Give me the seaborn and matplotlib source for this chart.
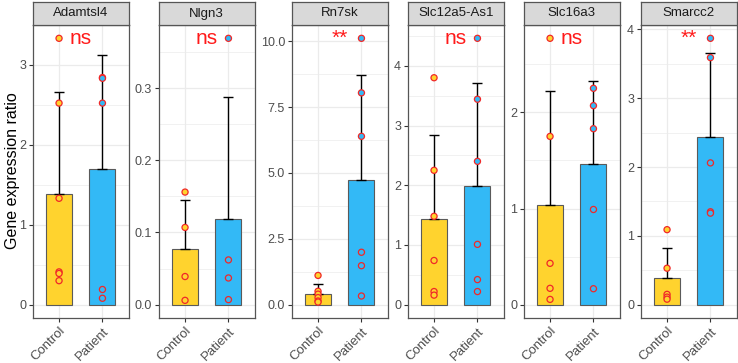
import numpy as np
import pandas as pd
import matplotlib
matplotlib.use("Agg")
import matplotlib.pyplot as plt
from matplotlib.ticker import MultipleLocator, FormatStrFormatter
import seaborn as sns

# ---------------- data ----------------
genes = ["Adamtsl4", "Nlgn3", "Rn7sk", "Slc12a5-As1", "Slc16a3", "Smarcc2"]
groups = ["Control", "Patient"]

adamtsl4_control = [3.33, 2.52, 1.33, 0.41, 0.39, 0.30]
adamtsl4_patient = [2.84, 2.83, 2.52, 0.19, 0.08]
nlgn3_control = [0.156, 0.107, 0.039, 0.006]
nlgn3_patient = [0.369, 0.062, 0.037, 0.007]
rn7sk_control = [1.11, 0.51, 0.40, 0.27, 0.14, 0.10]
rn7sk_patient = [10.11, 8.04, 6.39, 1.99, 1.48, 0.33]
slc12a5_control = [3.80, 2.25, 1.48, 0.74, 0.22, 0.16]
slc12a5_patient = [4.46, 3.44, 2.40, 1.01, 0.42, 0.22]
slc16a3_control = [2.77, 1.75, 0.43, 0.17, 0.055]
slc16a3_patient = [2.25, 2.07, 1.83, 0.99, 0.166]
smarcc2_control = [1.09, 0.53, 0.15, 0.11, 0.08]
smarcc2_patient = [3.87, 3.59, 2.06, 1.35, 1.33]

significance = ["ns", "ns", "**", "ns", "ns", "**"]
y_steps = [1, 0.1, 2.5, 1, 1, 1]
y_formats = ["%d", "%.1f", "%.1f", "%d", "%d", "%d"]

values = {
    "Adamtsl4": (adamtsl4_control, adamtsl4_patient),
    "Nlgn3": (nlgn3_control, nlgn3_patient),
    "Rn7sk": (rn7sk_control, rn7sk_patient),
    "Slc12a5-As1": (slc12a5_control, slc12a5_patient),
    "Slc16a3": (slc16a3_control, slc16a3_patient),
    "Smarcc2": (smarcc2_control, smarcc2_patient),
}

rows = []
for g in genes:
    c, p = values[g]
    rows += [(g, "Control", v) for v in c]
    rows += [(g, "Patient", v) for v in p]
df = pd.DataFrame(rows, columns=["gene", "group", "value"])

# ---------------- style ----------------
sns.set_theme(style="white")
plt.rcParams["font.family"] = ["Liberation Sans", "DejaVu Sans"]

palette = {"Control": "#FFD32E", "Patient": "#33B9F6"}
border = "#555555"
grid_col = "#EBEBEB"

W, H = 738, 363
fig = plt.figure(figsize=(W / 100, H / 100), dpi=100)

lefts = [33, 159, 292, 408, 524, 641]
pw = 95.5
ptop, pbot = 25, 318
stop = 2

for i, g in enumerate(genes):
    ax = fig.add_axes([lefts[i] / W, (H - pbot) / H, pw / W, (pbot - ptop) / H])
    sub = df[df.gene == g]

    ax.set_axisbelow(True)
    sns.barplot(data=sub, x="group", y="value", hue="group", order=groups,
                hue_order=groups, palette=palette, saturation=1,
                errorbar=None, width=0.6, edgecolor="#5A5A5A", linewidth=0.8,
                legend=False, ax=ax, zorder=2)

    stats = sub.groupby("group")["value"].agg(["mean", "std"]).reindex(groups)
    ax.errorbar(x=np.arange(len(groups)), y=stats["mean"].values,
                yerr=[np.zeros(len(groups)), stats["std"].values],
                fmt="none", ecolor="black", elinewidth=1.0, capsize=3.3,
                capthick=1.0, zorder=3)

    sns.stripplot(data=sub, x="group", y="value", hue="group", order=groups,
                  hue_order=groups, palette=palette, jitter=False, size=4.4,
                  edgecolor="#F02828", linewidth=0.9, legend=False, ax=ax,
                  zorder=4)

    ymax = max(sub["value"].max(), (stats["mean"] + stats["std"]).max())
    pad = 0.05 * ymax
    ax.set_ylim(-pad, ymax + pad)
    ax.set_xlim(-0.6, 1.6)

    ax.text(0.5, sub["value"].max(), significance[i], ha="center",
            va="center", color="#FF1A1A", fontsize=15, zorder=5)

    ax.yaxis.set_major_locator(MultipleLocator(y_steps[i]))
    ax.yaxis.set_minor_locator(MultipleLocator(y_steps[i] / 2))
    ax.yaxis.set_major_formatter(FormatStrFormatter(y_formats[i]))
    ax.grid(True, which="major", color=grid_col, linewidth=0.9)
    ax.grid(True, which="minor", axis="y", color=grid_col, linewidth=0.5)

    ax.set_xlabel("")
    ax.set_ylabel("")
    ax.tick_params(axis="both", which="major", length=3, width=0.8,
                   color="#333333", labelcolor="#4D4D4D", labelsize=9, pad=2,
                   left=True, bottom=True)
    ax.tick_params(axis="y", which="minor", length=0)
    for lab in ax.get_xticklabels():
        lab.set_rotation(45)
        lab.set_ha("right")
        lab.set_va("top")
        lab.set_rotation_mode("anchor")
        lab.set_fontsize(9.5)
    for s in ax.spines.values():
        s.set_color(border)
        s.set_linewidth(0.9)

    # facet strip
    sax = fig.add_axes([lefts[i] / W, (H - ptop) / H, pw / W, (ptop - stop) / H])
    sax.set_facecolor("#D9D9D9")
    sax.set_xticks([])
    sax.set_yticks([])
    for s in sax.spines.values():
        s.set_color(border)
        s.set_linewidth(0.9)
    sax.text(0.5, 0.5, g, ha="center", va="center", fontsize=9.5,
             color="#1A1A1A", transform=sax.transAxes)

fig.text(13 / W, 1 - 171 / H, "Gene expression ratio", rotation=90,
         ha="center", va="center", fontsize=11.5, color="black")

fig.savefig("out.png", dpi=100)
